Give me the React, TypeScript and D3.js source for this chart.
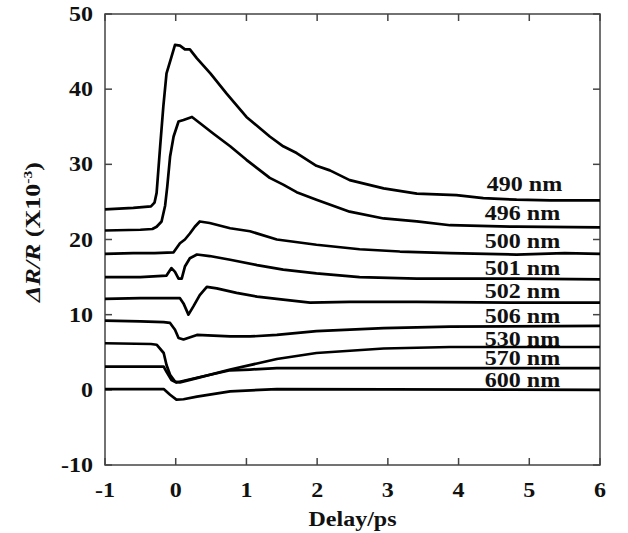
import * as d3 from "d3";

// series: delay (ps) and ΔR/R (x10^-3)
const delay490 = [-1, -0.6, -0.35, -0.3, -0.27, -0.22, -0.175, -0.13, -0.06, -0.01, 0.06, 0.13, 0.2, 0.3, 0.49, 0.72, 1.0, 1.33, 1.52, 1.71, 1.99, 2.18, 2.46, 2.94, 3.41, 3.97, 4.35, 4.82, 5.3, 6];
const dr490 = [24.0, 24.2, 24.4, 24.9, 26.2, 32.4, 37.7, 42.1, 44.3, 45.9, 45.8, 45.3, 45.3, 44.1, 42.1, 39.4, 36.3, 33.7, 32.4, 31.5, 29.8, 29.2, 27.9, 26.8, 26.1, 25.9, 25.5, 25.3, 25.2, 25.2];

const delay496 = [-1, -0.5, -0.33, -0.27, -0.2, -0.15, -0.12, -0.08, -0.03, 0.04, 0.11, 0.23, 0.34, 0.53, 0.77, 1.0, 1.33, 1.52, 1.71, 1.99, 2.46, 2.94, 3.41, 3.88, 4.82, 6];
const dr496 = [21.2, 21.3, 21.4, 21.7, 22.4, 24.5, 27.0, 31.0, 33.7, 35.7, 35.9, 36.3, 35.5, 34.1, 32.4, 30.6, 28.2, 27.3, 26.3, 25.3, 23.7, 22.8, 22.4, 21.9, 21.7, 21.6];

const delay500 = [-1, -0.6, -0.3, -0.03, 0.06, 0.13, 0.2, 0.27, 0.34, 0.48, 0.77, 1.05, 1.43, 1.99, 2.6, 3.17, 3.88, 4.82, 5.5, 6];
const dr500 = [18.1, 18.2, 18.2, 18.3, 19.5, 20.0, 20.8, 21.7, 22.4, 22.2, 21.5, 21.1, 20.0, 19.3, 18.7, 18.4, 18.2, 18.0, 18.2, 18.1];

const delay501 = [-1, -0.5, -0.13, -0.06, -0.01, 0.04, 0.085, 0.13, 0.2, 0.3, 0.48, 0.77, 1.15, 1.52, 1.99, 2.6, 3.41, 4.82, 6];
const dr501 = [15.0, 15.0, 15.2, 16.2, 15.7, 14.8, 14.8, 16.4, 17.5, 18.0, 17.8, 17.3, 16.6, 16.0, 15.5, 15.0, 14.8, 14.8, 14.7];

const delay502 = [-1, -0.5, 0.06, 0.11, 0.18, 0.25, 0.34, 0.44, 0.58, 0.86, 1.15, 1.52, 1.9, 2.46, 3.41, 4.82, 6];
const dr502 = [12.1, 12.2, 12.2, 11.5, 10.0, 11.1, 12.6, 13.7, 13.5, 12.9, 12.4, 12.0, 11.6, 11.7, 11.7, 11.6, 11.6];

const delay506 = [-1, -0.5, -0.17, -0.08, -0.01, 0.04, 0.11, 0.3, 0.77, 1.05, 1.43, 1.99, 2.94, 3.88, 6];
const dr506 = [9.2, 9.1, 9.0, 8.9, 8.0, 6.9, 6.7, 7.3, 7.1, 7.1, 7.3, 7.8, 8.2, 8.4, 8.5];

const delay530 = [-1, -0.35, -0.27, -0.17, -0.13, -0.08, -0.01, 0.06, 0.3, 0.77, 1.15, 1.43, 1.99, 2.94, 3.88, 6];
const dr530 = [6.2, 6.1, 6.0, 4.9, 3.3, 2.0, 1.1, 1.0, 1.55, 2.7, 3.5, 4.1, 4.9, 5.5, 5.7, 5.7];

const delay570 = [-1, -0.17, -0.13, -0.06, 0.01, 0.3, 0.77, 1.05, 1.43, 1.99, 6];
const dr570 = [3.1, 3.1, 2.4, 1.3, 0.97, 1.6, 2.6, 2.7, 2.9, 2.9, 2.9];

const delay600 = [-1, -0.17, -0.08, 0.01, 0.11, 0.3, 0.77, 1.43, 3, 6];
const dr600 = [0.1, 0.1, -0.66, -1.3, -1.25, -0.9, -0.2, 0.1, 0.05, 0.0];

const wavelengths = ["490 nm", "496 nm", "500 nm", "501 nm", "502 nm", "506 nm", "530 nm", "570 nm", "600 nm"];
const xTicks = [-1, 0, 1, 2, 3, 4, 5, 6];
const yTicks = [-10, 0, 10, 20, 30, 40, 50];

const series = [
  [delay490, dr490],
  [delay496, dr496],
  [delay500, dr500],
  [delay501, dr501],
  [delay502, dr502],
  [delay506, dr506],
  [delay530, dr530],
  [delay570, dr570],
  [delay600, dr600],
];

// how far above the curve end each label sits (px)
const labelLift = [9, 7, 6, 4, 5, 3, 1, 3, 3];

const W = 628, H = 533;
const left = 105, right = 600, top = 14, bottom = 465;
const SX = 1.2; // text in the picture is a bit wider than it is tall

const font = "Liberation Serif";

function Txt({ x, y, anchor = "start", size = 20, sx = SX, rot = 0, children }: any) {
  return (
    <text
      transform={`translate(${x},${y}) rotate(${rot}) scale(${sx},1)`}
      textAnchor={anchor}
      fontFamily={font}
      fontWeight="bold"
      fontSize={size}
      fill="#111"
    >
      {children}
    </text>
  );
}

export default function App() {
  const x = d3.scaleLinear().domain([-1, 6]).range([left, right]);
  const y = d3.scaleLinear().domain([-10, 50]).range([bottom, top]);

  const line = d3
    .line<[number, number]>()
    .x((d) => x(d[0]))
    .y((d) => y(d[1]));

  const tk = 7;
  const axisColor = "#444";

  return (
    <svg width={W} height={H} style={{ position: "absolute", left: 0, top: 0, background: "#fff" }}>
      {/* frame */}
      <rect x={left} y={top} width={right - left} height={bottom - top} fill="none" stroke={axisColor} strokeWidth={1.5} />
      {xTicks.map((t) => (
        <g key={"x" + t}>
          <line x1={x(t)} x2={x(t)} y1={bottom} y2={bottom - tk} stroke={axisColor} strokeWidth={1.5} />
          <line x1={x(t)} x2={x(t)} y1={top} y2={top + tk} stroke={axisColor} strokeWidth={1.5} />
          <Txt x={x(t)} y={497} anchor="middle">{t}</Txt>
        </g>
      ))}
      {yTicks.map((t) => (
        <g key={"y" + t}>
          <line x1={left} x2={left + tk} y1={y(t)} y2={y(t)} stroke={axisColor} strokeWidth={1.5} />
          <line x1={right} x2={right - tk} y1={y(t)} y2={y(t)} stroke={axisColor} strokeWidth={1.5} />
          <Txt x={93} y={y(t) + 7} anchor="end">{t}</Txt>
        </g>
      ))}

      {series.map(([xs, ys], i) => (
        <path
          key={wavelengths[i]}
          d={line(xs.map((v, j) => [v, ys[j]] as [number, number])) || ""}
          fill="none"
          stroke="#000"
          strokeWidth={2.7}
          strokeLinejoin="round"
        />
      ))}

      {series.map(([, ys], i) => (
        <Txt key={"l" + i} x={x(4.4) - (i === 0 ? 0 : 2)} y={y(ys[ys.length - 1]) - labelLift[i]}>
          {wavelengths[i]}
        </Txt>
      ))}

      <Txt x={(left + right) / 2} y={526} anchor="middle">Delay/ps</Txt>
      <Txt x={40} y={232} anchor="middle" rot={-90} sx={1.3}>
        <tspan fontStyle="italic">ΔR/R</tspan>
        <tspan> (X10</tspan>
        <tspan fontSize={12} dy={-8}>-3</tspan>
        <tspan dy={8}>)</tspan>
      </Txt>
    </svg>
  );
}
